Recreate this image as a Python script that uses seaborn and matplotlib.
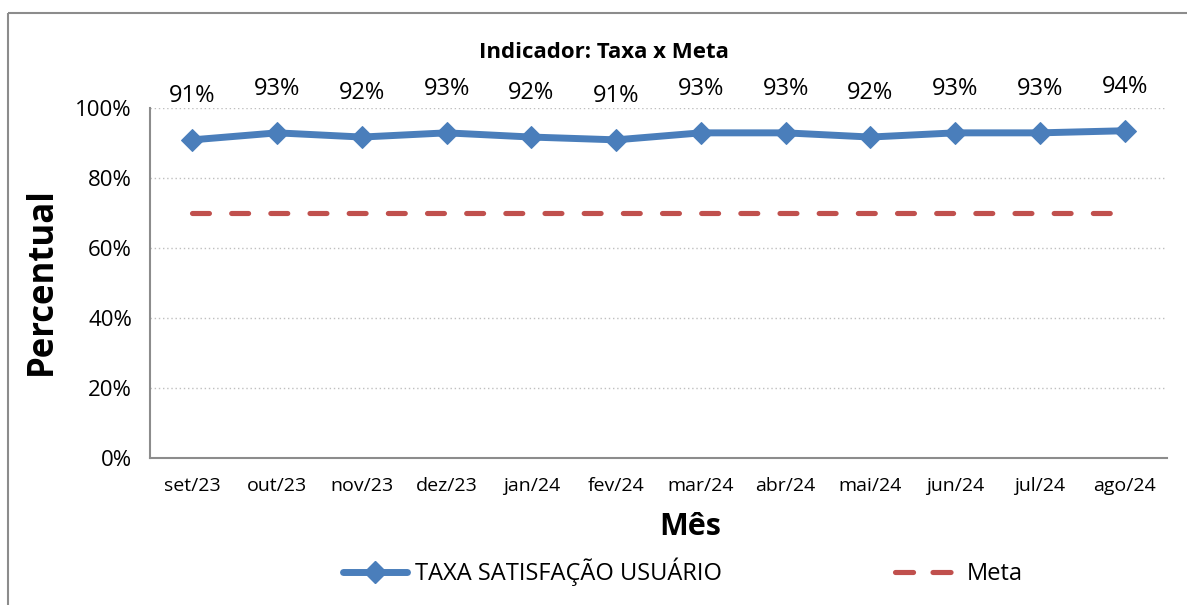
import numpy as np
import pandas as pd
import matplotlib
matplotlib.use("Agg")
import matplotlib.pyplot as plt
import seaborn as sns
from matplotlib.lines import Line2D
from matplotlib.patches import Rectangle
from matplotlib.ticker import FixedLocator, PercentFormatter
from matplotlib import font_manager

months = ["set/23", "out/23", "nov/23", "dez/23", "jan/24", "fev/24",
          "mar/24", "abr/24", "mai/24", "jun/24", "jul/24", "ago/24"]
taxa = [0.909, 0.929, 0.917, 0.929, 0.917, 0.909,
        0.929, 0.929, 0.917, 0.929, 0.929, 0.935]
meta = [0.70] * 12
series_names = ["TAXA SATISFAÇÃO USUÁRIO", "Meta"]
title = "Indicador: Taxa x Meta"
ylabel = "Percentual"
xlabel = "Mês"

sns.set_style("white")
avail = {f.name for f in font_manager.fontManager.ttflist}
fams = [f for f in ["Liberation Sans Narrow", "Open Sans", "DejaVu Sans"] if f in avail]
plt.rcParams["font.family"] = fams
plt.rcParams["text.color"] = "black"
plt.rcParams["lines.scale_dashes"] = False

W, H = 1187, 605
fig = plt.figure(figsize=(W / 100, H / 100), dpi=100)
fig.patch.set_facecolor("white")
# outer chart border
fig.add_artist(Rectangle((8 / W, 1 - 13 / H), 1.2, -1.2, transform=fig.transFigure,
                         fill=False, edgecolor="#8c8c8c", linewidth=1.5))

ax = fig.add_axes([150 / W, 1 - 458 / H, (1167 - 150) / W, (458 - 108) / H])

df = pd.DataFrame({"x": np.arange(len(months)), "taxa": taxa, "meta": meta})
blue = "#4A7EBB"
red = "#C0504D"
sns.lineplot(data=df, x="x", y="taxa", ax=ax, color=blue, linewidth=5,
             marker="D", markersize=11, markeredgecolor=blue, zorder=4)
sns.lineplot(data=df, x="x", y="meta", ax=ax, color=red, linewidth=3.7, zorder=3)
ml = ax.lines[-1]
ml.set_dashes([12.2, 16.0])
ml.set_dash_capstyle("round")

for i, v in enumerate(taxa):
    ax.annotate(f"{v*100:.0f}%", (i, v), xytext=(0, 23), textcoords="offset points",
                ha="center", va="bottom", fontsize=17, color="black")

ax.set_xlim(-0.5, len(months) - 0.5)
ax.set_ylim(0, 1.0)
ax.yaxis.set_major_locator(FixedLocator(np.arange(0, 1.01, 0.2)))
ax.yaxis.set_major_formatter(PercentFormatter(1.0, decimals=0))
ax.set_xticks(np.arange(len(months)))
ax.set_xticklabels(months)
ax.xaxis.set_minor_locator(FixedLocator(np.arange(-0.5, len(months), 1.0)))
ax.tick_params(axis="x", which="major", length=0, pad=14, labelsize=14, labelcolor="black")
ax.tick_params(axis="x", which="minor", length=7, color="#8c8c8c", width=1.5, direction="out")
ax.tick_params(axis="y", which="major", length=7, color="#8c8c8c", width=1.5,
               direction="out", labelsize=16, pad=6, labelcolor="black")
for s in ["top", "right"]:
    ax.spines[s].set_visible(False)
for s in ["left", "bottom"]:
    ax.spines[s].set_color("#8c8c8c")
    ax.spines[s].set_linewidth(1.5)
ax.grid(axis="y", color="#bfbfbf", linestyle=(0, (1, 2)), linewidth=1)
ax.set_axisbelow(True)
ax.set_xlabel("")
ax.set_ylabel("")

fig.text(604 / W, 1 - 53 / H, title, ha="center", va="center", fontsize=16,
         fontweight="bold", color="black")
fig.text(42 / W, 1 - 281 / H, ylabel, ha="center", va="center", fontsize=25,
         fontweight="bold", rotation=90, color="black")
fig.text(690 / W, 1 - 527 / H, xlabel, ha="center", va="center", fontsize=22,
         fontweight="bold", color="black")

h1 = Line2D([], [], color=blue, linewidth=5, marker="D", markersize=11)
h2 = Line2D([], [], color=red, linewidth=3.7, dashes=[13.0, 14.0], dash_capstyle="round")
fig.legend([h1, h2], series_names, loc="center", bbox_to_anchor=(683 / W, 1 - 572 / H),
           ncol=2, frameon=False, fontsize=17, handlelength=2.7, columnspacing=7.3,
           handletextpad=0.35, labelcolor="black")

fig.savefig("out.png", dpi=100)
